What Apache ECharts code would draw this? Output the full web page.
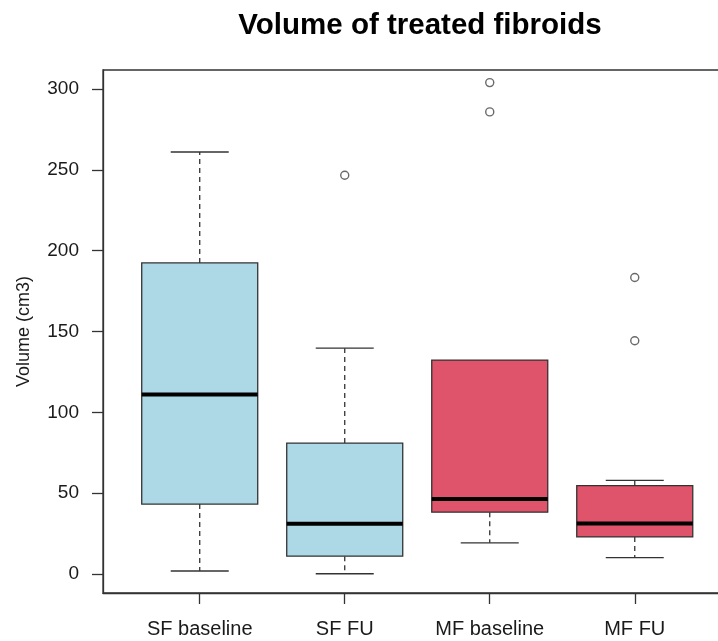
<!DOCTYPE html>
<html>
<head>
<meta charset="utf-8">
<script src="https://cdn.jsdelivr.net/npm/echarts@6/dist/echarts.min.js"></script>
<style>
  html, body { margin: 0; padding: 0; background: #fff; }
  #main { width: 718px; height: 641px; }
</style>
</head>
<body>
<div id="main"></div>
<script>
// groups in plot order
var categories = ['SF baseline', 'SF FU', 'MF baseline', 'MF FU'];
// box statistics (cm3)
var whiskerLow  = [1.9, 0.2, 19.3, 10.2];
var lowerQuart  = [43.3, 11.1, 38.3, 23.0];
var medians     = [111.0, 31.1, 46.4, 31.3];
var upperQuart  = [192.4, 81.0, 132.3, 54.7];
var whiskerHigh = [261.0, 139.7, 132.3, 57.9];
// outlier points: [group index, value]
var outliers = [[1, 246.6], [2, 303.9], [2, 285.8], [3, 183.4], [3, 144.3]];
var yTicks = [0, 50, 100, 150, 200, 250, 300];

var boxColors = ['#ADD8E6', '#ADD8E6', '#DF536B', '#DF536B'];
var lineColor = '#333';
var font = "'Liberation Sans', Arial, sans-serif";

var boxData = categories.map(function (c, i) {
  return [i, whiskerLow[i], lowerQuart[i], medians[i], upperQuart[i], whiskerHigh[i]];
});

function renderBox(params, api) {
  var i = api.value(0);
  var half = api.size([0.4, 0])[0];
  var capHalf = half / 2;
  var pLow = api.coord([i, api.value(1)]);
  var pQ1 = api.coord([i, api.value(2)]);
  var pMed = api.coord([i, api.value(3)]);
  var pQ3 = api.coord([i, api.value(4)]);
  var pHigh = api.coord([i, api.value(5)]);
  var x = pMed[0];
  var dashed = { stroke: lineColor, lineWidth: 1.3, lineDash: [5, 4] };
  var solid = { stroke: lineColor, lineWidth: 1.3 };
  var kids = [];
  if (pHigh[1] < pQ3[1] - 0.5) {
    kids.push({ type: 'line', shape: { x1: x, y1: pQ3[1], x2: x, y2: pHigh[1] }, style: dashed });
    kids.push({ type: 'line', shape: { x1: x - capHalf, y1: pHigh[1], x2: x + capHalf, y2: pHigh[1] }, style: solid });
  }
  kids.push({ type: 'line', shape: { x1: x, y1: pQ1[1], x2: x, y2: pLow[1] }, style: dashed });
  kids.push({ type: 'line', shape: { x1: x - capHalf, y1: pLow[1], x2: x + capHalf, y2: pLow[1] }, style: solid });
  kids.push({
    type: 'rect',
    shape: { x: x - half, y: pQ3[1], width: half * 2, height: pQ1[1] - pQ3[1] },
    style: { fill: boxColors[i], stroke: lineColor, lineWidth: 1.3 }
  });
  kids.push({ type: 'line', shape: { x1: x - half, y1: pMed[1], x2: x + half, y2: pMed[1] }, style: { stroke: '#000', lineWidth: 4 } });
  return { type: 'group', children: kids };
}

var chart = echarts.init(document.getElementById('main'), null, { renderer: 'canvas' });
chart.setOption({
  backgroundColor: '#fff',
  animation: false,
  title: {
    text: 'Volume of treated fibroids',
    left: 415,
    textAlign: 'center',
    top: 6,
    textStyle: { fontFamily: font, fontSize: 29.5, fontWeight: 'bold', color: '#000' }
  },
  grid: {
    left: 103, right: -20, top: 70, bottom: 48,
    outerBoundsMode: 'none',
    containLabel: false,
    show: true, borderColor: lineColor, borderWidth: 1.3, backgroundColor: 'transparent'
  },
  xAxis: {
    type: 'value',
    min: -0.667,
    max: 3.712,
    splitLine: { show: false },
    axisLine: { show: true, onZero: false, lineStyle: { color: lineColor, width: 1.3 } },
    axisTick: { show: true, length: 11, customValues: [0, 1, 2, 3], lineStyle: { color: lineColor, width: 1.3 } },
    axisLabel: {
      customValues: [0, 1, 2, 3],
      formatter: function (v) { return categories[Math.round(v)]; },
      margin: 26,
      fontFamily: font, fontSize: 20, color: '#1a1a1a'
    }
  },
  yAxis: {
    type: 'value',
    min: -11.7,
    max: 311.7,
    name: 'Volume (cm3)',
    nameLocation: 'middle',
    nameGap: 70,
    nameTextStyle: { fontFamily: font, fontSize: 18, color: '#1a1a1a' },
    splitLine: { show: false },
    axisLine: { show: true, onZero: false, lineStyle: { color: lineColor, width: 1.3 } },
    axisTick: { show: true, length: 11, customValues: yTicks, lineStyle: { color: lineColor, width: 1.3 } },
    axisLabel: { customValues: yTicks, margin: 24, fontFamily: font, fontSize: 19, color: '#1a1a1a' }
  },
  series: [
    {
      type: 'custom',
      renderItem: renderBox,
      data: boxData,
      encode: { x: 0, y: [1, 2, 3, 4, 5] },
      clip: false
    },
    {
      type: 'scatter',
      data: outliers,
      symbol: 'circle',
      symbolSize: 8,
      itemStyle: { color: '#fff', borderColor: '#444', borderWidth: 1.4 }
    }
  ]
});
</script>
</body>
</html>
